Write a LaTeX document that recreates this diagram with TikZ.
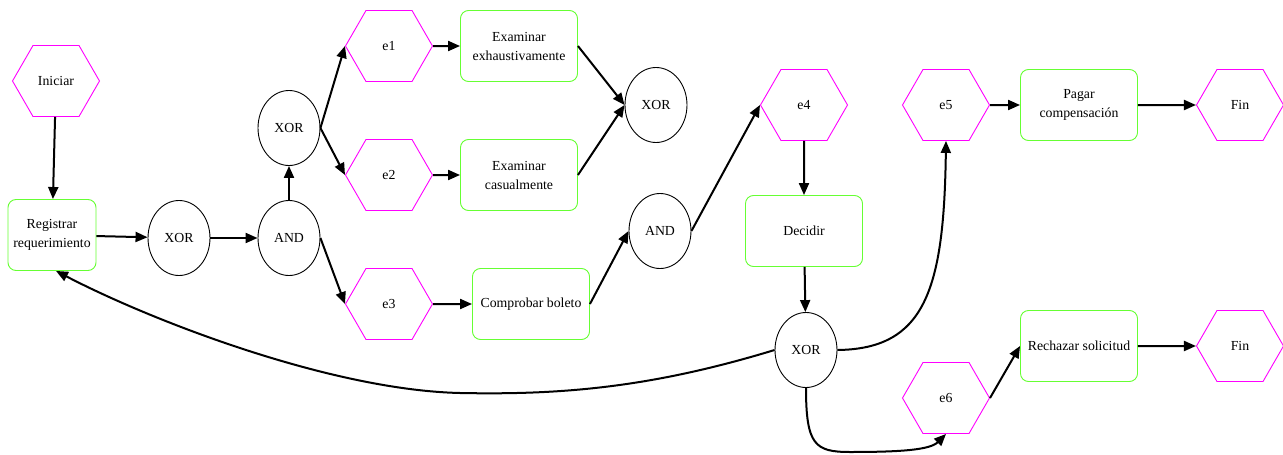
\documentclass[tikz,border=0pt]{standalone}
\usepackage{fontspec}
\setmainfont{Liberation Serif}
\usetikzlibrary{shapes.geometric,shapes.symbols,arrows.meta}
\definecolor{hexc}{RGB}{255,0,255}
\definecolor{boxc}{RGB}{102,255,51}
\begin{document}
\begin{tikzpicture}[x=1pt,y=-1pt,
 every node/.style={font=\fontsize{13.8}{19}\selectfont},
 hexn/.style={draw=hexc, line width=0.9pt, shape=signal, signal to=west and east, signal pointer angle=120, minimum width=87pt, minimum height=71pt, inner sep=0pt},
 boxn/.style={draw=boxc, line width=0.9pt, rectangle, rounded corners=8pt, minimum width=117pt, minimum height=71pt, align=center, inner sep=0pt},
 gate/.style={draw, ellipse, line width=0.9pt, minimum width=62pt, minimum height=75pt, inner sep=0pt},
 arr/.style={-{Triangle[length=12pt,width=10pt]}, line width=2pt}]
\useasboundingbox (0,0) rectangle (1283,455);
\node[hexn] (ini) at (56,81) {Iniciar};
\node[boxn, minimum width=88pt] (reg) at (52,235) {Registrar\\requerimiento};
\node[gate] (x1) at (179,238) {XOR};
\node[gate] (a1) at (289,238) {AND};
\node[gate] (x2) at (289,128) {XOR};
\node[hexn] (e1) at (389,46) {e1};
\node[hexn] (e2) at (389,175) {e2};
\node[hexn] (e3) at (389,304) {e3};
\node[boxn] (exh) at (519,46) {Examinar\\exhaustivamente};
\node[boxn] (cas) at (519,175) {Examinar\\casualmente};
\node[gate] (x3) at (656,105) {XOR};
\node[boxn] (cb) at (531,304) {Comprobar boleto};
\node[gate] (a2) at (660,231) {AND};
\node[hexn] (e4) at (804,105) {e4};
\node[boxn] (dec) at (804,231) {Decidir};
\node[gate] (x4) at (806,350) {XOR};
\node[hexn] (e5) at (946,105) {e5};
\node[boxn] (pag) at (1079,105) {Pagar\\compensación};
\node[hexn] (f1) at (1240,105) {Fin};
\node[hexn] (e6) at (946,398) {e6};
\node[boxn] (rech) at (1079,346) {Rechazar solicitud};
\node[hexn] (f2) at (1240,346) {Fin};

\draw[arr] (ini) -- (reg);
\draw[arr] (reg) -- (x1);
\draw[arr] (x1) -- (a1);
\draw[arr] (a1) -- (x2);
\draw[arr] (x2.east) -- (e1.west);
\draw[arr] (x2.east) -- (e2.west);
\draw[arr] (a1.east) -- (e3.west);
\draw[arr] (e1) -- (exh);
\draw[arr] (e2) -- (cas);
\draw[arr] (e3) -- (cb);
\draw[arr] (exh.east) -- (x3.west);
\draw[arr] (cas.east) -- (x3.west);
\draw[arr] (cb.east) -- (a2.west);
\draw[arr] (a2.east) -- (e4.west);
\draw[arr] (e4) -- (dec);
\draw[arr] (dec) -- (x4);
\draw[arr] (x4.east) .. controls (925,349) and (944,290) .. (e5.south);
\draw[arr] (x4.south) .. controls (806,445) and (815,452) .. (850,452) .. controls (900,452) and (930,450) .. (e6.south);
\draw[arr] (x4.west) .. controls (650,388) and (560,395) .. (460,393) .. controls (330,390) and (150,320) .. ([xshift=4pt]reg.south);
\draw[arr] (e5) -- (pag);
\draw[arr] (pag) -- (f1);
\draw[arr] (e6.east) -- (rech.west);
\draw[arr] (rech) -- (f2);
\end{tikzpicture}
\end{document}
